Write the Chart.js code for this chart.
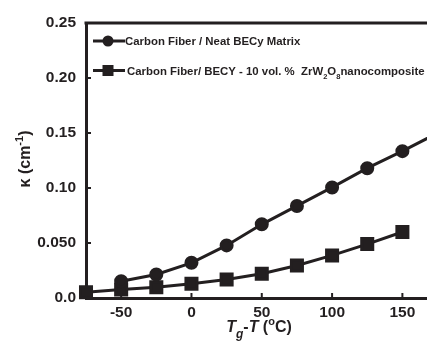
<!DOCTYPE html>
<html>
<head>
<meta charset="utf-8">
<script src="https://cdn.jsdelivr.net/npm/chart.js@4/dist/chart.umd.min.js"></script>
<style>
  html, body { margin: 0; padding: 0; background: #fff; overflow: hidden; }
  canvas { display: block; }
</style>
</head>
<body>
<canvas id="chart" width="427" height="341"></canvas>
<script>
// values (x = Tg - T in °C, y = kappa in cm^-1)
const tempNeat = [-50, -25, 0, 25, 50, 75, 100, 125, 150, 175];
const kappaNeat = [0.0153, 0.0214, 0.032, 0.0478, 0.067, 0.0837, 0.1005, 0.118, 0.1335, 0.150];
const tempNano = [-75, -50, -25, 0, 25, 50, 75, 100, 125, 150];
const kappaNano = [0.0053, 0.0077, 0.0098, 0.013, 0.0169, 0.022, 0.0296, 0.0387, 0.049, 0.060];
const xTicks = [-50, 0, 50, 100, 150];
const yTicks = [0, 0.05, 0.10, 0.15, 0.20, 0.25];
const yTickLabels = ["0.0", "0.050", "0.10", "0.15", "0.20", "0.25"];
const seriesNames = ["Carbon Fiber / Neat BECy Matrix", "Carbon Fiber/ BECY - 10 vol. %  ZrW"];

const INK = "#231f20";
const FONT = "'Liberation Sans', Arial, sans-serif";

function toPoints(xs, ys) {
    return xs.map((x, i) => ({ x: x, y: ys[i] }));
}

// draws a run of text pieces (for sub/superscripts), left to right
function drawRich(ctx, parts, x, y, align) {
    let total = 0;
    parts.forEach(p => { ctx.font = p.font; total += ctx.measureText(p.t).width; });
    let cx = align === "center" ? x - total / 2 : x;
    ctx.textAlign = "left";
    ctx.textBaseline = "alphabetic";
    parts.forEach(p => {
        ctx.font = p.font;
        ctx.fillText(p.t, cx, y + (p.dy || 0));
        cx += ctx.measureText(p.t).width;
    });
}

const decorPlugin = {
    id: "decor",
    afterDraw(chart) {
        const ctx = chart.ctx;
        const area = chart.chartArea;
        const xs = chart.scales.x;
        const ys = chart.scales.y;
        ctx.save();
        ctx.strokeStyle = INK;
        ctx.fillStyle = INK;

        // top frame line
        ctx.lineWidth = 3;
        ctx.beginPath();
        ctx.moveTo(area.left - 1.5, area.top);
        ctx.lineTo(area.right, area.top);
        ctx.stroke();

        // inward tick marks
        ctx.lineWidth = 2;
        xTicks.forEach(v => {
            const px = xs.getPixelForValue(v);
            ctx.beginPath();
            ctx.moveTo(px, area.bottom);
            ctx.lineTo(px, area.bottom - 5);
            ctx.stroke();
        });
        yTicks.slice(1, -1).forEach(v => {
            const py = ys.getPixelForValue(v);
            ctx.beginPath();
            ctx.moveTo(area.left, py);
            ctx.lineTo(area.left + 5, py);
            ctx.stroke();
        });

        // legend
        const lx = area.left + 7;
        const rows = [area.top + 18, area.top + 47.5];
        ctx.lineWidth = 3;
        rows.forEach((ry, i) => {
            ctx.beginPath();
            ctx.moveTo(lx, ry);
            ctx.lineTo(lx + 32, ry);
            ctx.stroke();
            if (i === 0) {
                ctx.beginPath();
                ctx.arc(lx + 15, ry, 5.5, 0, Math.PI * 2);
                ctx.fill();
            } else {
                ctx.fillRect(lx + 15 - 5.5, ry - 5.5, 11, 11);
            }
        });
        const lf = "bold 11.4px " + FONT;
        const sf = "bold 7.5px " + FONT;
        drawRich(ctx, [{ t: seriesNames[0], font: lf }], lx + 32, rows[0] + 4);
        drawRich(ctx, [
            { t: seriesNames[1], font: lf },
            { t: "2", font: sf, dy: 4 },
            { t: "O", font: lf },
            { t: "8", font: sf, dy: 4 },
            { t: "nanocomposite", font: lf }
        ], lx + 34, rows[1] + 4);

        // x axis title
        const tf = "italic bold 16px " + FONT;
        const nf = "bold 16px " + FONT;
        drawRich(ctx, [
            { t: "T", font: tf },
            { t: "g", font: "italic bold 12px " + FONT, dy: 6 },
            { t: "-", font: nf },
            { t: "T", font: tf },
            { t: " (", font: nf },
            { t: "o", font: "bold 11px " + FONT, dy: -7 },
            { t: "C)", font: nf }
        ], 259, 332, "center");

        // y axis title
        ctx.translate(30, 159);
        ctx.rotate(-Math.PI / 2);
        drawRich(ctx, [
            { t: "\u03ba (cm", font: nf },
            { t: "-1", font: "bold 11px " + FONT, dy: -7 },
            { t: ")", font: nf }
        ], 0, 0, "center");
        ctx.restore();
    }
};

new Chart(document.getElementById("chart"), {
    type: "scatter",
    data: {
        datasets: [
            {
                label: seriesNames[0],
                data: toPoints(tempNeat, kappaNeat),
                showLine: true,
                borderColor: INK,
                backgroundColor: INK,
                borderWidth: 3,
                pointStyle: "circle",
                pointRadius: 5.5,
                pointHoverRadius: 5.5
            },
            {
                label: seriesNames[1],
                data: toPoints(tempNano, kappaNano),
                showLine: true,
                clip: false,
                borderColor: INK,
                backgroundColor: INK,
                borderWidth: 3,
                pointStyle: "rect",
                pointRadius: 7.8,
                pointHoverRadius: 7.8
            }
        ]
    },
    options: {
        responsive: false,
        animation: false,
        events: [],
        layout: { autoPadding: false, padding: { top: 23, right: 0, left: 0, bottom: 0 } },
        plugins: { legend: { display: false }, tooltip: { enabled: false } },
        scales: {
            x: {
                type: "linear",
                min: -75,
                max: 167.5,
                afterBuildTicks: scale => { scale.ticks = xTicks.map(v => ({ value: v })); },
                afterFit: scale => {
                    scale.height = 43;
                    scale.paddingLeft = 0;
                    scale.paddingRight = 0;
                },
                grid: { display: false, drawTicks: false },
                border: { display: true, color: INK, width: 3 },
                ticks: { color: INK, padding: 5, font: { family: FONT, size: 15.5, weight: "bold" } }
            },
            y: {
                type: "linear",
                min: 0,
                max: 0.25,
                afterBuildTicks: scale => { scale.ticks = yTicks.map(v => ({ value: v })); },
                afterFit: scale => { scale.width = 86; },
                grid: { display: false, drawTicks: false },
                border: { display: true, color: INK, width: 3 },
                ticks: {
                    color: INK,
                    padding: 10,
                    font: { family: FONT, size: 15.5, weight: "bold" },
                    callback: (value, index) => yTickLabels[index]
                }
            }
        }
    },
    plugins: [decorPlugin]
});
</script>
</body>
</html>
